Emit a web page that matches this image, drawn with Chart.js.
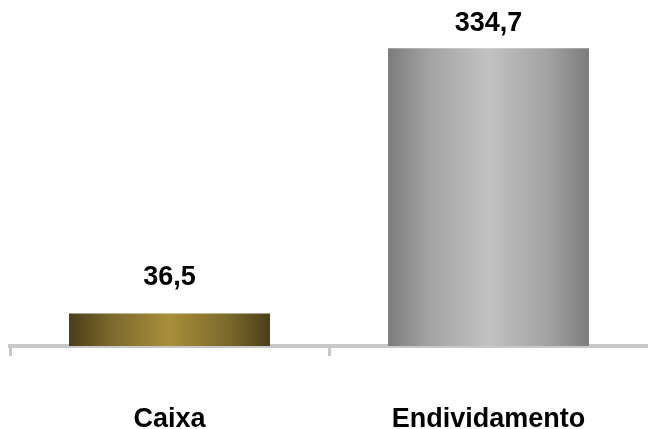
<!DOCTYPE html>
<html>
<head>
<meta charset="utf-8">
<script src="https://cdn.jsdelivr.net/npm/chart.js@4"></script>
<style>
  html, body { margin: 0; padding: 0; background: #ffffff; }
  canvas { display: block; }
</style>
</head>
<body>
<canvas id="grafico" width="648" height="429"></canvas>
<script>
// dados (R$ milhões)
const categorias = ['Caixa', 'Endividamento'];
const valores = [36.5, 334.7];

// cores dos degradês horizontais de cada barra (borda, meio, centro)
const paletas = [
    ['#4a3e19', '#7a672c', '#a88f3a'],
    ['#7c7c7c', '#a2a2a2', '#c2c2c2']
];
const larguraBarra = 0.63;

function gradienteBarra(context) {
    const chart = context.chart;
    const area = chart.chartArea;
    const i = context.dataIndex;
    const p = paletas[i];
    if (!area) return p[2];
    const xScale = chart.scales.x;
    const centro = xScale.getPixelForValue(i);
    const meia = (xScale.width / categorias.length) * larguraBarra / 2;
    const g = chart.ctx.createLinearGradient(centro - meia, 0, centro + meia, 0);
    g.addColorStop(0, p[0]);
    g.addColorStop(0.2, p[1]);
    g.addColorStop(0.5, p[2]);
    g.addColorStop(0.8, p[1]);
    g.addColorStop(1, p[0]);
    return g;
}

// rótulos de valor acima das barras, com vírgula decimal
const rotulosValor = {
    id: 'rotulosValor',
    afterDatasetsDraw(chart) {
        const ctx = chart.ctx;
        const distancias = [36, 25];
        ctx.save();
        ctx.font = 'bold 27px "Liberation Sans", Arial, sans-serif';
        ctx.fillStyle = '#000000';
        ctx.textAlign = 'center';
        ctx.textBaseline = 'middle';
        chart.getDatasetMeta(0).data.forEach((bar, i) => {
            const texto = valores[i].toFixed(1).replace('.', ',');
            ctx.fillText(texto, bar.x, bar.y - distancias[i]);
        });
        ctx.restore();
    }
};

new Chart(document.getElementById('grafico').getContext('2d'), {
    type: 'bar',
    data: {
        labels: categorias,
        datasets: [{
            data: valores,
            backgroundColor: gradienteBarra,
            borderWidth: 0,
            categoryPercentage: 1,
            barPercentage: larguraBarra
        }]
    },
    options: {
        responsive: false,
        animation: false,
        layout: { padding: { left: 10, right: -4, top: 0, bottom: 0 } },
        plugins: {
            legend: { display: false },
            tooltip: { enabled: false }
        },
        scales: {
            y: {
                display: false,
                min: 0,
                max: 389
            },
            x: {
                afterFit(scale) { scale.height = 83; },
                border: { color: '#c8c8c8', width: 4 },
                grid: {
                    offset: true,
                    drawOnChartArea: false,
                    drawTicks: true,
                    tickLength: 10,
                    lineWidth: 3,
                    // só as divisões entre categorias, sem o traço da ponta direita
                    color: (c) => c.type === 'tick' ? '#c8c8c8' : 'rgba(0,0,0,0)'
                },
                ticks: {
                    padding: 47,
                    color: '#000000',
                    font: { family: '"Liberation Sans", Arial, sans-serif', size: 27, weight: 'bold' }
                }
            }
        }
    },
    plugins: [rotulosValor]
});
</script>
</body>
</html>
